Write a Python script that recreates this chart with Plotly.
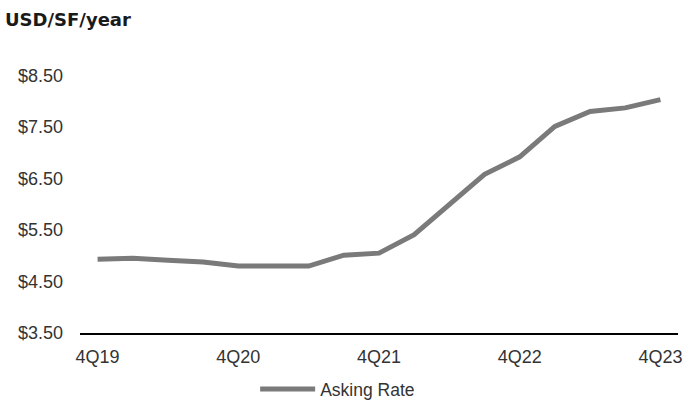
import plotly.graph_objects as go

quarters = ["4Q19", "1Q20", "2Q20", "3Q20", "4Q20", "1Q21", "2Q21", "3Q21", "4Q21",
            "1Q22", "2Q22", "3Q22", "4Q22", "1Q23", "2Q23", "3Q23", "4Q23"]
asking_rate = [4.93, 4.95, 4.91, 4.88, 4.80, 4.80, 4.80, 5.01, 5.05,
               5.41, 6.00, 6.58, 6.92, 7.51, 7.80, 7.87, 8.03]
x_tick_labels = ["4Q19", "4Q20", "4Q21", "4Q22", "4Q23"]
y_tick_values = [3.5, 4.5, 5.5, 6.5, 7.5, 8.5]
y_tick_labels = ["$3.50", "$4.50", "$5.50", "$6.50", "$7.50", "$8.50"]

fig = go.Figure()
fig.add_trace(go.Scatter(
    x=list(range(len(quarters))), y=asking_rate, mode="lines",
    name="Asking Rate", line=dict(color="#7a7a7a", width=5),
))

fig.update_layout(
    width=699, height=400,
    margin=dict(l=80, r=21, t=60, b=67, autoexpand=False),
    paper_bgcolor="white", plot_bgcolor="white",
    font=dict(family="Liberation Sans, Arial, sans-serif", size=18, color="#333333"),
    showlegend=True,
    legend=dict(orientation="h", xref="container", yref="container",
                x=0.365, xanchor="left", y=11 / 400, yanchor="middle",
                itemwidth=55, font=dict(size=17.5, color="#333333"),
                bgcolor="rgba(0,0,0,0)"),
    xaxis=dict(
        range=[-0.5, len(quarters) - 0.5],
        tickmode="array",
        tickvals=[quarters.index(q) for q in x_tick_labels],
        ticktext=x_tick_labels,
        showgrid=False, zeroline=False, automargin=False,
        showline=True, linecolor="black", linewidth=1.5,
        ticks="", ticklabelstandoff=7,
    ),
    yaxis=dict(
        range=[3.5, 8.8],
        tickmode="array", tickvals=y_tick_values, ticktext=y_tick_labels,
        showgrid=False, zeroline=False, showline=False, automargin=False,
        ticks="", ticklabelstandoff=16,
    ),
    annotations=[dict(
        text="<b>USD/SF/year</b>", xref="paper", yref="paper",
        x=-77 / 598, y=1 + 41 / 273.5, xanchor="left", yanchor="middle",
        showarrow=False, align="left",
        font=dict(family="DejaVu Sans, sans-serif", size=18, color="#1a1a1a"),
    )],
)

fig.write_html("out.html", config={"displayModeBar": False},
               post_script="document.body.style.margin='0';document.body.style.overflow='hidden';")
